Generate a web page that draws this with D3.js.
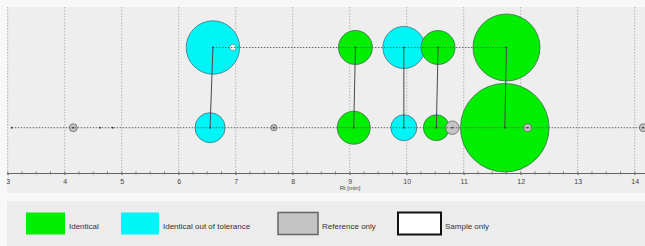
<!DOCTYPE html>
<html>
<head>
<meta charset="utf-8">
<script src="https://cdn.jsdelivr.net/npm/d3@7"></script>
<style>
  body { margin: 0; background: #f7f7f7; }
  svg { display: block; font-family: "Liberation Sans", Arial, sans-serif; }
</style>
</head>
<body>
<div id="chart"></div>
<script>
// sample row peaks (retention time, relative area, status)
const sampleRt     = [6.6, 6.95, 9.1, 9.95, 10.55, 11.75];
const sampleArea   = [36.3, 0.5, 14.7, 22.5, 14.7, 57.2];
const sampleStatus = ["tolerance", "sample", "identical", "tolerance", "identical", "identical"];

// reference row peaks
const refRt     = [3.07, 4.15, 4.62, 4.84, 6.55, 7.67, 9.07, 9.95, 10.52, 10.8, 11.72, 12.12, 14.15];
const refArea   = [0.06, 0.8, 0.05, 0.05, 11.5, 0.5, 13.9, 8.6, 8.6, 2.3, 100, 0.8, 0.8];
const refStatus = ["reference", "reference", "reference", "reference", "tolerance", "reference",
                   "identical", "tolerance", "identical", "reference", "identical", "reference", "reference"];

// matched pairs: index in sample row -> index in reference row
const pairs = [[0, 4], [2, 6], [3, 7], [4, 8], [5, 10]];

const xTicks = [3, 4, 5, 6, 7, 8, 9, 10, 11, 12, 13, 14];
const legendKeys   = ["identical", "tolerance", "reference", "sample"];
const legendLabels = ["Identical", "Identical out of tolerance", "Reference only", "Sample only"];

const fill   = { identical: "#00ef00", tolerance: "#00f6f6", reference: "#c4c4c4", sample: "#ffffff" };
const stroke = { identical: "#3c6e4a", tolerance: "#3a7482", reference: "#666", sample: "#777" };

const W = 645, H = 246;
const svg = d3.select("#chart").append("svg")
  .attr("width", W)
  .attr("height", H);

svg.append("rect").attr("width", W).attr("height", H).attr("fill", "#f8f8f8");

// plot panel
svg.append("rect")
  .attr("x", 7).attr("y", 7)
  .attr("width", W - 7).attr("height", 186)
  .attr("fill", "#eeeeee");

// legend panel
svg.append("rect")
  .attr("x", 7).attr("y", 201)
  .attr("width", W - 7).attr("height", 45)
  .attr("fill", "#ececec");

const x = d3.scaleLinear().domain([3, 14.18]).range([7.7, 645]);
const y = d3.scalePoint().domain(["sample", "reference"]).range([47.5, 127.7]);
const r = d3.scaleSqrt().domain([0, 100]).range([0, 44.3]);
const axisY = 173;

// grid
svg.append("g")
  .selectAll("line")
  .data(xTicks)
  .join("line")
  .attr("x1", d => x(d)).attr("x2", d => x(d))
  .attr("y1", 7).attr("y2", axisY)
  .attr("stroke", "#b4b4b4")
  .attr("stroke-width", 1)
  .attr("stroke-dasharray", "1.5,1.5");

// axis
const axis = svg.append("g")
  .attr("transform", `translate(0,${axisY})`)
  .call(d3.axisBottom(x).tickValues(xTicks).tickFormat(d3.format("d")).tickSize(2).tickPadding(4));
axis.select(".domain").attr("stroke", "#666");
axis.selectAll(".tick line").attr("stroke", "#666");
axis.selectAll("text").attr("font-size", 7).attr("fill", "#444");

// minor ticks
svg.append("g")
  .selectAll("line")
  .data(d3.range(3, 14.2, 0.25))
  .join("line")
  .attr("x1", d => x(d)).attr("x2", d => x(d))
  .attr("y1", axisY - 1.5).attr("y2", axisY + 1.5)
  .attr("stroke", "#777");

svg.append("text")
  .attr("x", 350).attr("y", 190)
  .attr("text-anchor", "middle")
  .attr("font-size", 6)
  .attr("fill", "#444")
  .text("Rt [min]");

const samples = sampleRt.map((t, i) => ({ rt: t, area: sampleArea[i], status: sampleStatus[i], row: "sample" }));
const refs = refRt.map((t, i) => ({ rt: t, area: refArea[i], status: refStatus[i], row: "reference" }));

// circles (largest first so small ones stay visible)
const all = samples.concat(refs).sort((a, b) => b.area - a.area);
svg.append("g")
  .selectAll("circle")
  .data(all)
  .join("circle")
  .attr("cx", d => x(d.rt))
  .attr("cy", d => y(d.row))
  .attr("r", d => Math.max(r(d.area), 1))
  .attr("fill", d => fill[d.status])
  .attr("stroke", d => stroke[d.status])
  .attr("stroke-width", d => d.area < 0.1 ? 0 : 0.8);

// dotted row lines
const rowLines = [
  { row: "sample", from: d3.min(sampleRt), to: d3.max(sampleRt) },
  { row: "reference", from: d3.min(refRt), to: d3.max(refRt) + 0.1 }
];
svg.append("g")
  .selectAll("line")
  .data(rowLines)
  .join("line")
  .attr("x1", d => x(d.from)).attr("x2", d => x(d.to))
  .attr("y1", d => y(d.row)).attr("y2", d => y(d.row))
  .attr("stroke", "#666")
  .attr("stroke-width", 1)
  .attr("stroke-dasharray", "1.5,1.5");

// pair links
svg.append("g")
  .selectAll("line")
  .data(pairs)
  .join("line")
  .attr("x1", d => x(sampleRt[d[0]])).attr("y1", y("sample"))
  .attr("x2", d => x(refRt[d[1]])).attr("y2", y("reference"))
  .attr("stroke", "#4a4a4a")
  .attr("stroke-width", 1);

// centre marks (not on the sample-only peak)
svg.append("g")
  .selectAll("rect")
  .data(all.filter(d => d.status !== "sample"))
  .join("rect")
  .attr("x", d => x(d.rt) - 0.75).attr("y", d => y(d.row) - 0.75)
  .attr("width", 1.5).attr("height", 1.5)
  .attr("fill", "#333");

// legend
const swatchX = [26, 121, 278, 398];
const swatchW = [39, 38, 40, 43];
const legend = svg.append("g");
legendKeys.forEach((k, i) => {
  legend.append("rect")
    .attr("x", swatchX[i]).attr("y", 212.5)
    .attr("width", swatchW[i]).attr("height", 22)
    .attr("fill", fill[k])
    .attr("stroke", k === "sample" ? "#111" : (k === "reference" ? "#666" : fill[k]))
    .attr("stroke-width", k === "sample" ? 2 : (k === "reference" ? 1.5 : 0));
  legend.append("text")
    .attr("x", swatchX[i] + swatchW[i] + 4).attr("y", 226.5)
    .attr("font-size", 8)
    .attr("fill", "#333")
    .attr("dominant-baseline", "middle")
    .text(legendLabels[i]);
});
</script>
</body>
</html>
